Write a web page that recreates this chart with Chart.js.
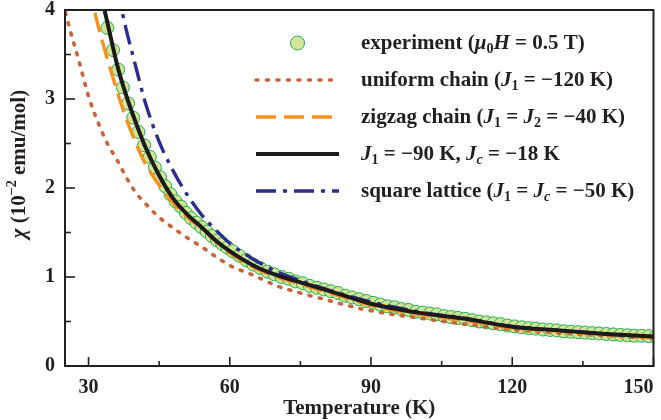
<!DOCTYPE html>
<html>
<head>
<meta charset="utf-8">
<script src="https://cdn.jsdelivr.net/npm/chart.js@4.4.1/dist/chart.umd.min.js"></script>
<style>
  html, body { margin: 0; padding: 0; background: #fff; }
  #wrap { width: 661px; height: 420px; }
</style>
</head>
<body>
<div id="wrap"><canvas id="chiChart"></canvas></div>
<script>
// measured susceptibility, mu0H = 0.5 T (10^-2 emu/mol)
const expTemp = [34.0, 35.2, 36.3, 37.3, 38.4, 39.5, 40.6, 41.8, 43.0, 44.1, 45.2, 46.3, 47.4, 48.5, 49.6,
  50.7, 51.8, 52.9, 54.0, 55.1, 56.2, 57.3, 58.4, 59.5, 60.6, 62.0, 63.5, 65.0, 66.5, 68.0, 69.5, 71.0,
  72.5, 74.0, 75.5, 77.0, 78.5, 80.0, 81.5, 83.0, 84.5, 86.0, 87.5, 89.0, 90.5, 92.0, 93.5, 95.0, 96.5,
  98.0, 99.5, 101.0, 102.5, 104.0, 105.5, 107.0, 108.5, 110.0, 111.5, 113.0, 114.5, 116.0, 117.5, 119.0,
  120.5, 122.0, 123.5, 125.0, 126.5, 128.0, 129.5, 131.0, 132.5, 134.0, 135.5, 137.0, 138.5, 140.0,
  141.5, 143.0, 144.5, 146.0, 147.5, 149.0, 150.5, 152.0];
const expChi = [3.80, 3.55, 3.33, 3.13, 2.95, 2.79, 2.63, 2.48, 2.35, 2.23, 2.12, 2.02, 1.93, 1.85, 1.79,
  1.72, 1.66, 1.61, 1.56, 1.51, 1.46, 1.41, 1.37, 1.33, 1.29, 1.24, 1.19, 1.14, 1.10, 1.06, 1.03, 1.00,
  0.98, 0.95, 0.93, 0.90, 0.88, 0.86, 0.84, 0.82, 0.79, 0.77, 0.75, 0.73, 0.71, 0.69, 0.67, 0.66, 0.64,
  0.63, 0.61, 0.60, 0.59, 0.58, 0.56, 0.55, 0.54, 0.53, 0.515, 0.50, 0.49, 0.48, 0.47, 0.455,
  0.445, 0.435, 0.425, 0.42, 0.41, 0.405, 0.40, 0.39, 0.385, 0.38, 0.375, 0.37, 0.365, 0.36,
  0.355, 0.35, 0.345, 0.34, 0.34, 0.335, 0.33, 0.325];

// model curves on one temperature grid (null = off the top of the plot)
const modelTemp = [24, 26, 28, 30, 32, 34, 36, 38, 40, 42, 45, 48, 51, 54, 57, 60, 65, 70, 75, 80, 85, 90, 100, 110, 120, 130, 140, 150, 152];
const uniformChain = [4.20, 3.79, 3.42, 3.03, 2.74, 2.50, 2.32, 2.12, 1.95, 1.83, 1.67, 1.55, 1.44, 1.34, 1.23, 1.13, 1.02, 0.90, 0.82, 0.75, 0.68, 0.62, 0.54, 0.47, 0.41, 0.37, 0.34, 0.31, 0.305];
const zigzagChain = [null, null, null, 4.28, 3.83, 3.45, 3.10, 2.78, 2.51, 2.28, 2.03, 1.83, 1.67, 1.55, 1.40, 1.27, 1.11, 1.00, 0.92, 0.84, 0.76, 0.68, 0.58, 0.51, 0.43, 0.39, 0.35, 0.32, 0.315];
const coupledChains = [null, null, null, null, 4.32, 3.86, 3.40, 3.04, 2.74, 2.47, 2.14, 1.88, 1.70, 1.56, 1.41, 1.29, 1.13, 1.02, 0.94, 0.86, 0.78, 0.70, 0.60, 0.53, 0.44, 0.40, 0.36, 0.33, 0.325];
const squareLattice = [null, null, null, null, null, null, 4.25, 3.78, 3.37, 2.97, 2.52, 2.19, 1.92, 1.70, 1.53, 1.38, 1.20, 1.06, 0.96, 0.87, 0.79, 0.72, 0.61, 0.535, 0.445, 0.40, 0.36, 0.33, 0.325];

// axis ticks
const xMajor = [30, 60, 90, 120, 150];
const xMinor = [45, 75, 105, 135];
const yMajor = [0, 1, 2, 3, 4];
const yMinor = [0.5, 1.5, 2.5, 3.5];

// legend texts: [text, style]  i = italic, s = subscript, si = italic subscript, p = superscript
const legendText = [
  [['experiment (', ''], ['\u03bc', 'i'], ['0', 's'], ['H', 'i'], [' = 0.5 T)', '']],
  [['uniform chain (', ''], ['J', 'i'], ['1', 's'], [' = \u2212120 K)', '']],
  [['zigzag chain (', ''], ['J', 'i'], ['1', 's'], [' = ', ''], ['J', 'i'], ['2', 's'], [' = \u221240 K)', '']],
  [['J', 'i'], ['1', 's'], [' = \u221290 K, ', ''], ['J', 'i'], ['c', 'si'], [' = \u221218 K', '']],
  [['square lattice (', ''], ['J', 'i'], ['1', 's'], [' = ', ''], ['J', 'i'], ['c', 'si'], [' = \u221250 K)', '']]
];
const yTitle = [['\u03c7', 'i'], [' (10', ''], ['\u22122', 'p'], [' emu/mol)', '']];

const serif = '"Liberation Serif", "Times New Roman", serif';
const ink = '#231f20';

function richFont(st, size) {
  const small = st.indexOf('s') >= 0 || st.indexOf('p') >= 0;
  const fs = small ? Math.round(size * 0.68) : size;
  return (st.indexOf('i') >= 0 ? 'italic ' : '') + 'bold ' + fs + 'px ' + serif;
}

function richWidth(ctx, parts, size) {
  let w = 0;
  parts.forEach(([t, st]) => { ctx.font = richFont(st, size); w += ctx.measureText(t).width; });
  return w;
}

function drawRich(ctx, parts, x, y, size) {
  let cx = x;
  parts.forEach(([t, st]) => {
    ctx.font = richFont(st, size);
    let dy = 0;
    if (st.indexOf('s') >= 0) dy = size * 0.24;
    if (st.indexOf('p') >= 0) dy = -size * 0.34;
    ctx.fillText(t, cx, y + dy);
    cx += ctx.measureText(t).width;
  });
}

const pts = (xs, ys) => xs.map((x, i) => ({x: x, y: ys[i]}));

// box, inward tick marks, y title
const framePlugin = {
  id: 'frame',
  afterDatasetsDraw(chart) {
    const {ctx, chartArea: a} = chart;
    const xs = chart.scales.x, ys = chart.scales.y;
    ctx.save();
    ctx.strokeStyle = ink;
    ctx.lineWidth = 1.6;
    const seg = (x1, y1, x2, y2) => { ctx.beginPath(); ctx.moveTo(x1, y1); ctx.lineTo(x2, y2); ctx.stroke(); };
    xMajor.forEach(v => { const p = xs.getPixelForValue(v); seg(p, a.bottom, p, a.bottom - 9); });
    xMinor.forEach(v => { const p = xs.getPixelForValue(v); seg(p, a.bottom, p, a.bottom - 5); });
    yMajor.forEach(v => { const p = ys.getPixelForValue(v); seg(a.left, p, a.left + 10, p); });
    yMinor.forEach(v => { const p = ys.getPixelForValue(v); seg(a.left, p, a.left + 6, p); });
    ctx.lineWidth = 2;
    ctx.strokeRect(a.left, a.top, a.right - a.left, a.bottom - a.top);
    ctx.restore();

    ctx.save();
    ctx.fillStyle = ink;
    ctx.textBaseline = 'middle';
    const w = richWidth(ctx, yTitle, 21);
    ctx.translate(a.left - 45, (a.top + a.bottom) / 2 - 24);
    ctx.rotate(-Math.PI / 2);
    drawRich(ctx, yTitle, -w / 2, 0, 21);
    ctx.restore();
  }
};

const legendPlugin = {
  id: 'richLegend',
  afterDraw(chart) {
    const {ctx, chartArea: a} = chart;
    const x0 = a.left + 191, x1 = a.left + 274, tx = a.left + 296;
    chart.data.datasets.forEach((ds, i) => {
      const y = a.top + 33 + i * 37;
      ctx.save();
      if (ds.showLine === false) {
        ctx.beginPath();
        ctx.arc((x0 + x1) / 2, y, 7, 0, 2 * Math.PI);
        ctx.fillStyle = ds.backgroundColor;
        ctx.fill();
        ctx.lineWidth = ds.borderWidth;
        ctx.strokeStyle = ds.borderColor;
        ctx.stroke();
      } else {
        ctx.setLineDash(ds.borderDash || []);
        ctx.lineCap = ds.borderCapStyle || 'butt';
        ctx.lineWidth = ds.borderWidth;
        ctx.strokeStyle = ds.borderColor;
        ctx.beginPath();
        ctx.moveTo(x0, y);
        ctx.lineTo(x1, y);
        ctx.stroke();
      }
      ctx.restore();
      ctx.save();
      ctx.fillStyle = ink;
      ctx.textBaseline = 'middle';
      drawRich(ctx, legendText[i], tx, y + 1, 21);
      ctx.restore();
    });
  }
};

const lineBase = {pointRadius: 0, cubicInterpolationMode: 'monotone', clip: 0, fill: false};

new Chart(document.getElementById('chiChart').getContext('2d'), {
  type: 'line',
  data: {
    datasets: [
      {
        label: 'experiment',
        data: pts(expTemp, expChi),
        showLine: false,
        pointRadius: 6.5,
        backgroundColor: '#d4e59a',
        borderColor: '#1fae4b',
        borderWidth: 1,
        clip: 0,
        order: 10
      },
      Object.assign({
        label: 'uniform chain',
        data: pts(modelTemp, uniformChain),
        borderColor: '#c6653a',
        borderWidth: 3.6,
        borderDash: [2, 8.5],
        borderCapStyle: 'round',
        order: 4
      }, lineBase),
      Object.assign({
        label: 'zigzag chain',
        data: pts(modelTemp, zigzagChain),
        borderColor: '#f7901e',
        borderWidth: 3.4,
        borderDash: [20, 8],
        order: 3
      }, lineBase),
      Object.assign({
        label: 'J1 = -90 K, Jc = -18 K',
        data: pts(modelTemp, coupledChains),
        borderColor: '#1c1a1b',
        borderWidth: 4,
        order: 1
      }, lineBase),
      Object.assign({
        label: 'square lattice',
        data: pts(modelTemp, squareLattice),
        borderColor: '#2b2e8c',
        borderWidth: 3.4,
        borderDash: [20, 7, 4, 7],
        order: 2
      }, lineBase)
    ]
  },
  options: {
    responsive: true,
    maintainAspectRatio: false,
    animation: false,
    layout: { padding: { left: 35, top: 0, right: 3, bottom: 1 } },
    plugins: {
      legend: { display: false },
      tooltip: { enabled: false }
    },
    scales: {
      x: {
        type: 'linear',
        min: 25,
        max: 150,
        afterBuildTicks: function(scale) {
          scale.ticks = [25].concat(xMajor, xMinor).sort((a, b) => a - b).map(v => ({value: v}));
        },
        grid: { display: false, drawTicks: false },
        border: { display: false },
        ticks: {
          align: 'inner',
          autoSkip: false,
          maxRotation: 0,
          padding: 3,
          color: ink,
          font: { family: serif, size: 20, weight: 'bold', lineHeight: 1.9 },
          callback: function(value) {
            return xMajor.indexOf(value) >= 0 ? String(value) : '';
          }
        },
        title: {
          display: true,
          text: 'Temperature (K)',
          color: ink,
          padding: { top: -12, bottom: 0 },
          font: { family: serif, size: 21, weight: 'bold', lineHeight: 1 }
        }
      },
      y: {
        type: 'linear',
        min: 0,
        max: 4,
        afterBuildTicks: function(scale) {
          scale.ticks = yMajor.concat(yMinor).sort((a, b) => a - b).map(v => ({value: v}));
        },
        grid: { display: false, drawTicks: false },
        border: { display: false },
        ticks: {
          autoSkip: false,
          padding: 10,
          color: ink,
          font: { family: serif, size: 20, weight: 'bold', lineHeight: 0 },
          callback: function(value) {
            return yMajor.indexOf(value) >= 0 ? String(value) : '';
          }
        }
      }
    }
  },
  plugins: [framePlugin, legendPlugin]
});
</script>
</body>
</html>
